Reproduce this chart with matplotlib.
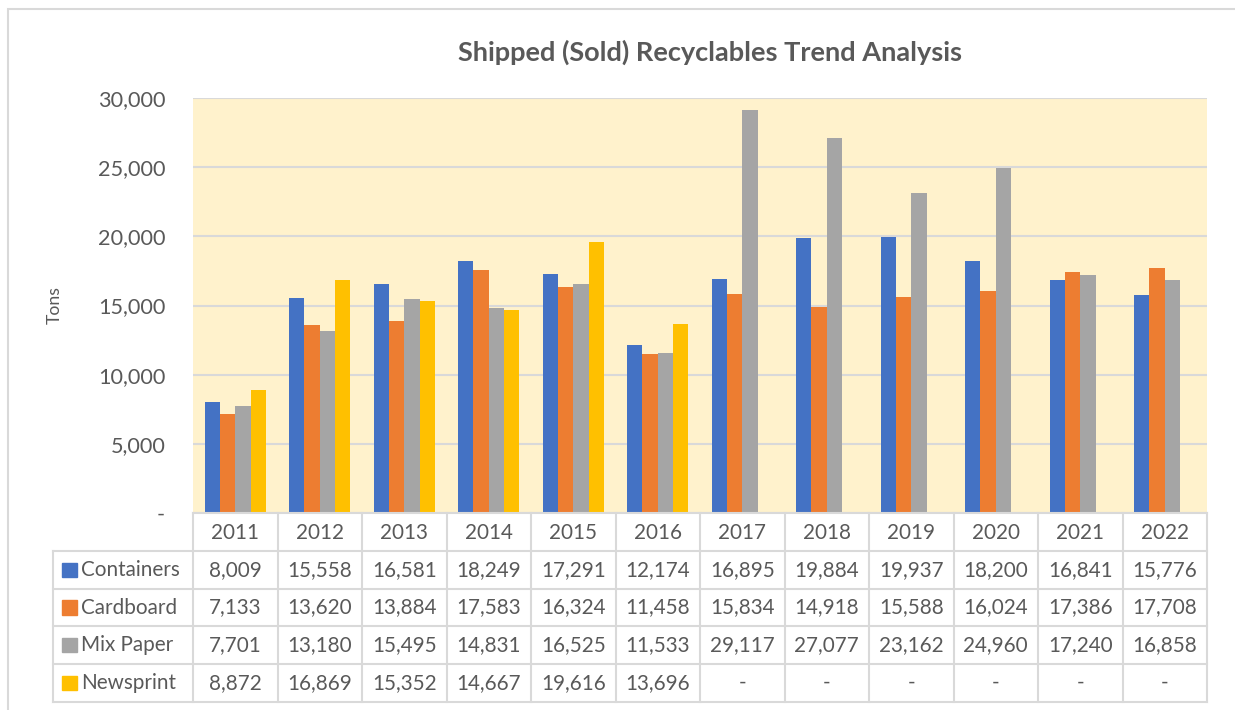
import matplotlib
matplotlib.use("Agg")
import matplotlib.pyplot as plt
from matplotlib.patches import Rectangle
from matplotlib.lines import Line2D
import numpy as np

years = ["2011", "2012", "2013", "2014", "2015", "2016", "2017", "2018", "2019", "2020", "2021", "2022"]
containers = [8009, 15558, 16581, 18249, 17291, 12174, 16895, 19884, 19937, 18200, 16841, 15776]
cardboard = [7133, 13620, 13884, 17583, 16324, 11458, 15834, 14918, 15588, 16024, 17386, 17708]
mix_paper = [7701, 13180, 15495, 14831, 16525, 11533, 29117, 27077, 23162, 24960, 17240, 16858]
newsprint = [8872, 16869, 15352, 14667, 19616, 13696, None, None, None, None, None, None]
series_names = ["Containers", "Cardboard", "Mix Paper", "Newsprint"]
series_values = [containers, cardboard, mix_paper, newsprint]
colors = ["#4472C4", "#ED7D31", "#A5A5A5", "#FFC000"]
y_ticks = [0, 5000, 10000, 15000, 20000, 25000, 30000]

plt.rcParams['font.family'] = ['Lato', 'DejaVu Sans']
W, H = 1235, 710
fig = plt.figure(figsize=(W / 100, H / 100), dpi=100)
fig.patch.set_facecolor("white")
renderer = fig.canvas.get_renderer()

def fit_size(s, target_px, weight="normal"):
    t = fig.text(0, 0, s, fontsize=10, fontweight=weight)
    w = t.get_window_extent(renderer=renderer).width
    t.remove()
    return 10 * target_px / w

text_color = "#595959"
grid_color = "#D9D9D9"

def fx(px):
    return px / W

def fy(py):
    return 1 - py / H

fs_tick = fit_size("30,000", 67)
fs_tab = fit_size("15,558", 65)
fs_title = fit_size("Shipped (Sold) Recyclables Trend Analysis", 507, "bold")
fs_tons = fit_size("Tons", 38)

# Outer chart border (top & left visible)
fig.add_artist(Rectangle((fx(8), fy(720)), fx(1240) - fx(8), fy(9) - fy(720),
                         transform=fig.transFigure, fill=False, edgecolor=grid_color, lw=1.5))

# Plot area
pl, pr, pt, pb = 193, 1207, 98, 513
ax = fig.add_axes([fx(pl), fy(pb), fx(pr) - fx(pl), fy(pt) - fy(pb)])
ax.set_facecolor("#FFF2CC")
n = len(years)
x = np.arange(n)
bw = 0.181
for i, (vals, c) in enumerate(zip(series_values, colors)):
    v = np.array([np.nan if a is None else a for a in vals], dtype=float)
    ax.bar(x + (i - 1.5) * bw, v, width=bw, color=c, edgecolor="none", zorder=3)
ax.set_xlim(-0.5, n - 0.5)
ax.set_ylim(0, 30000)
ax.set_yticks(y_ticks)
ax.set_yticklabels(["-" if t == 0 else f"{t:,}" for t in y_ticks], color=text_color, fontsize=fs_tick)
ax.tick_params(axis="y", length=0, pad=20)
ax.set_xticks([])
ax.yaxis.grid(True, color=grid_color, lw=1.5, zorder=0)
ax.set_axisbelow(True)
for s in ax.spines.values():
    s.set_visible(False)

fig.text(fx(55), fy(305), "Tons", rotation=90, ha="center", va="center",
         color=text_color, fontsize=fs_tons)

fig.text(fx(710), fy(52), "Shipped (Sold) Recyclables Trend Analysis", ha="center",
         va="center", color=text_color, fontsize=fs_title, fontweight="bold")

# Data table
tl, tr, tt, tb = 53, 1207, 513, 702
unit = (pr - pl) / n
x_left = -0.5 - (pl - tl) / unit
tax = fig.add_axes([fx(tl), fy(tb), fx(tr) - fx(tl), fy(tt) - fy(tb)])
tax.set_xlim(x_left, n - 0.5)
tax.set_ylim(5, 0)
tax.axis("off")
lc = grid_color
lw = 1.5
tax.add_line(Line2D([-0.5, n - 0.5], [0, 0], color=lc, lw=lw, clip_on=False))
for r in range(1, 6):
    tax.add_line(Line2D([x_left, n - 0.5], [r, r], color=lc, lw=lw, clip_on=False))
for k in range(n + 1):
    tax.add_line(Line2D([k - 0.5, k - 0.5], [0, 5], color=lc, lw=lw, clip_on=False))
tax.add_line(Line2D([x_left, x_left], [1, 5], color=lc, lw=lw, clip_on=False))

for k, yr in enumerate(years):
    tax.text(k, 0.52, yr, ha="center", va="center", color=text_color, fontsize=fs_tab)
for r, (name, vals, c) in enumerate(zip(series_names, series_values, colors)):
    yrow = r + 1.5
    tax.add_patch(Rectangle((x_left + 9 / unit, yrow - 0.19), 15 / unit, 0.38, color=c, clip_on=False))
    tax.text(x_left + 28 / unit, yrow, name, ha="left", va="center", color=text_color, fontsize=fs_tab)
    for k, v in enumerate(vals):
        tax.text(k, yrow, "-" if v is None else f"{v:,}", ha="center", va="center",
                 color=text_color, fontsize=fs_tab)

fig.savefig("out.png", dpi=100)
